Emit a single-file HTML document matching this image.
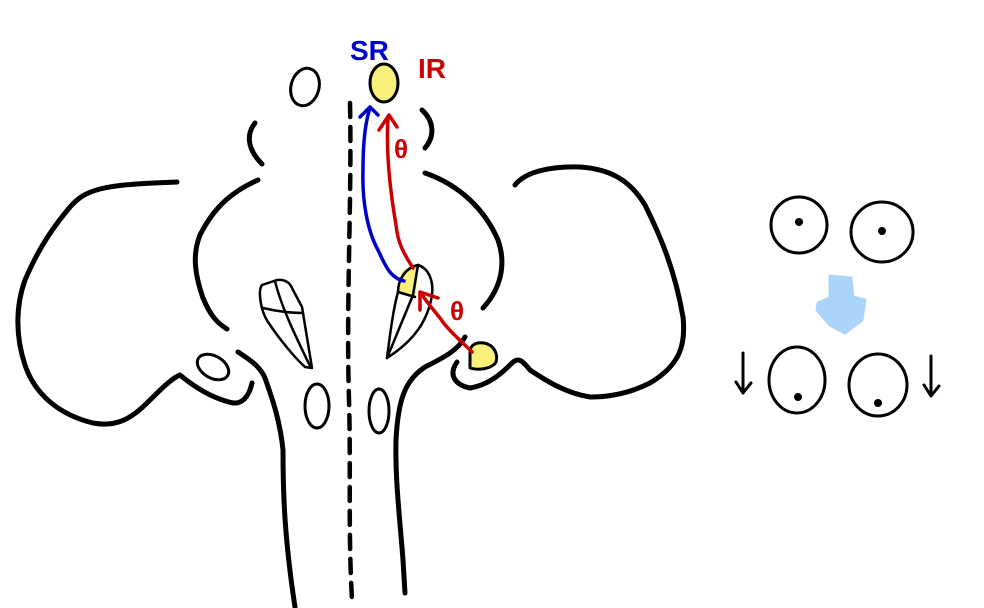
<!DOCTYPE html>
<html><head><meta charset="utf-8"><style>body{margin:0;background:#fff}svg{display:block}</style></head><body>
<svg width="984" height="608" viewBox="0 0 984 608" xmlns="http://www.w3.org/2000/svg" fill="none" stroke-linecap="round" stroke-linejoin="round">
<g stroke="#000" stroke-width="5">
<!-- left lobe -->
<path d="M177,182 C150,183 120,184 100,189 C85,193 78,198 70,207 C55,225 40,245 25,280 C16,305 15,335 25,365 C35,395 60,415 93,423 C115,427 130,420 147,403 C160,390 172,378 180,375 C192,385 210,398 233,403 C245,404 250,392 252,383"/>
<path d="M258,180 C235,190 215,205 200,235 C192,255 195,275 203,298 C210,315 217,323 227,329"/>
<path d="M255,123 C247,133 246,148 262,164"/>
<path d="M238,352 C250,360 260,366 265,378 C272,398 280,420 283,450 C283,490 284,535 295,607"/>
<!-- right -->
<path d="M422,110 C433,120 436,135 425,148"/>
<path d="M425,173 C460,185 485,210 498,240 C505,260 504,285 483,308"/>
<path d="M515,185 C525,172 550,166 580,167 C610,169 630,180 645,205 C660,235 675,270 683,317 C686,345 680,365 650,383 C630,393 610,397 590,397 C565,393 545,380 530,370 C522,360 518,357 512,363 C500,375 488,385 470,388 C455,385 448,375 457,362"/>
<path d="M465,337 C458,350 445,357 425,367 C405,380 398,400 396,440 C395,480 400,520 403,560 L405,593"/>
</g>
<!-- dashed midline -->
<path d="M350,103 C352,200 346,300 349,400 C351,470 348,530 352,600" stroke="#000" stroke-width="4.5" stroke-dasharray="14,10"/>
<g stroke="#000" stroke-width="3">
<ellipse cx="213" cy="367" rx="17" ry="11" transform="rotate(30 213 367)"/>
<ellipse cx="317" cy="406" rx="12" ry="22"/>
<ellipse cx="379" cy="411" rx="10" ry="22"/>
<ellipse cx="305" cy="87" rx="14" ry="19" transform="rotate(15 305 87)"/>
</g>
<!-- left tear -->
<g stroke="#000" stroke-width="2.5">
<path d="M277,280 C285,279 290,283 292,288 L302,307 L312,368 L305,367 C295,358 280,340 268,322 C260,310 258,290 262,285 Z"/>
<path d="M275,281 C282,310 300,345 310,366"/>
<path d="M263,308 C280,312 295,313 303,313"/>
</g>
<!-- right tear -->
<path d="M401,272 C408,266 416,264 418,265 L416,296 L398,292 Z" fill="#f8f07a" stroke="none"/>
<g stroke="#000" stroke-width="2.5">
<path d="M418,265 C428,268 434,280 432,295 C428,320 415,340 387,358 C390,335 393,310 398,292 C398,280 405,268 418,265 Z"/>
<path d="M418,265 L413,295 L387,358"/>
<path d="M398,292 L415,297"/>
</g>
<!-- yellow nodes -->
<ellipse cx="384" cy="83" rx="14" ry="19" fill="#f8f07a" stroke="#000" stroke-width="3"/>
<path d="M470,352 C470,345 476,342 484,343 C495,345 498,355 496,362 C493,368 480,371 470,368 Z" fill="#f8f07a" stroke="#000" stroke-width="3"/>
<!-- arrows -->
<g stroke="#0000cc" stroke-width="3.5">
<path d="M404,281 C390,278 385,265 378,250 C367,230 362,200 363,170 C363,140 366,120 370,108"/>
<path d="M360,117 L370,107 L378,115"/>
</g>
<g stroke="#cc0000" stroke-width="3.5">
<path d="M413,268 C405,255 398,245 396,225 C390,190 386,150 388,118"/>
<path d="M379,130 L389,115 L397,127"/>
<path d="M472,352 C460,340 448,330 440,318 C432,308 425,300 421,293"/>
<path d="M420,310 L420,292 L438,298"/>
</g>
<g font-family="Liberation Sans, sans-serif" font-weight="bold">
<text x="350" y="60" font-size="28" fill="#0000cc">SR</text>
<text x="418" y="78" font-size="28" fill="#cc0000">IR</text>
<text x="394" y="158" font-size="26" fill="#cc0000">θ</text>
<text x="450" y="320" font-size="26" fill="#cc0000">θ</text>
</g>
<!-- right eyes -->
<g stroke="#000" stroke-width="3">
<ellipse cx="799" cy="225" rx="28" ry="28"/>
<ellipse cx="882" cy="232" rx="31" ry="30"/>
<ellipse cx="797" cy="380" rx="28" ry="33"/>
<ellipse cx="878" cy="385" rx="29" ry="31"/>
<path d="M743,353 L743,392 M736,382 L743,393 L751,383"/>
<path d="M931,356 L931,395 M924,385 L931,396 L939,386"/>
</g>
<g fill="#000">
<circle cx="799" cy="222" r="4"/><circle cx="882" cy="231" r="4"/>
<circle cx="798" cy="397" r="4"/><circle cx="878" cy="403" r="4"/>
</g>
<path d="M830,276 L851,278 L853,297 L865,300 L862,320 L845,333 L830,325 L817,310 L818,303 L830,298 Z" fill="#aad4fa" stroke="#aad4fa" stroke-width="3"/>
</svg>
</body></html>
